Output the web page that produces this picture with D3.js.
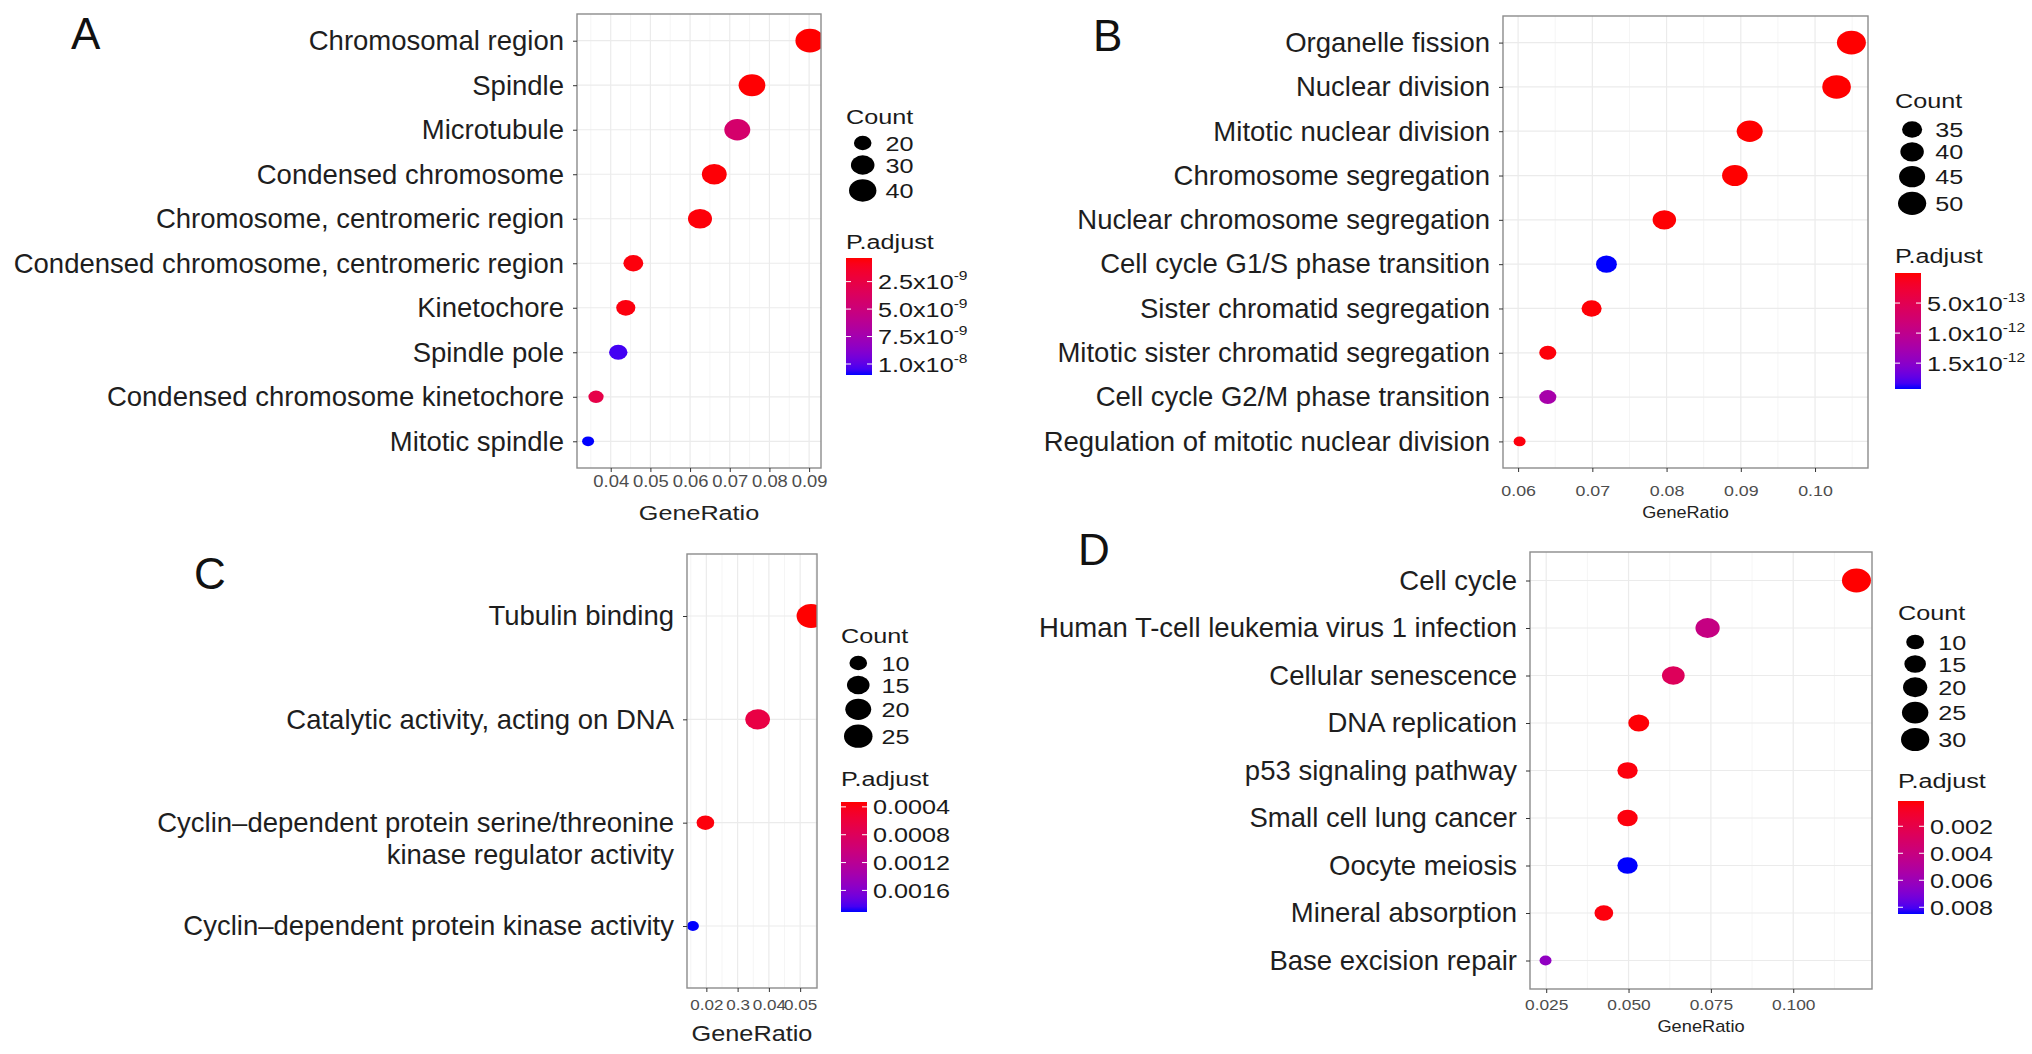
<!DOCTYPE html>
<html><head><meta charset="utf-8">
<script src="https://cdn.jsdelivr.net/npm/d3@7"></script>
<style>
html,body{margin:0;padding:0;background:#fff;}
svg{display:block;font-family:"Liberation Sans",Arial,Helvetica,sans-serif;}
</style></head><body>
<svg id="chart" width="2032" height="1054"></svg>
<script>
// ---------- Panel A ----------
const aTerms = ["Chromosomal region","Spindle","Microtubule","Condensed chromosome","Chromosome, centromeric region","Condensed chromosome, centromeric region","Kinetochore","Spindle pole","Condensed chromosome kinetochore","Mitotic spindle"];
const aGeneRatio = [0.0902,0.0756,0.0719,0.0661,0.0625,0.0457,0.0438,0.0419,0.0363,0.0343];
const aCount = [45,38,36,33,31,23,22,21,18,17];
const aPadj = [3.5e-10,4.0e-10,4.3e-9,4.5e-10,5.0e-10,5.5e-10,6.0e-10,1.05e-8,2.7e-9,1.1e-8];
const aXTicks = [0.04,0.05,0.06,0.07,0.08,0.09];
const aXTickLabels = ["0.04","0.05","0.06","0.07","0.08","0.09"];
const aCountBreaks = [20,30,40];
const aPadjBreaks = [2.5e-9,5.0e-9,7.5e-9,1.0e-8];
const aPadjBase = ["2.5x10","5.0x10","7.5x10","1.0x10"];
const aPadjExp = ["-9","-9","-9","-8"];

// ---------- Panel B ----------
const bTerms = ["Organelle fission","Nuclear division","Mitotic nuclear division","Chromosome segregation","Nuclear chromosome segregation","Cell cycle G1/S phase transition","Sister chromatid segregation","Mitotic sister chromatid segregation","Cell cycle G2/M phase transition","Regulation of mitotic nuclear division"];
const bGeneRatio = [0.1049,0.1029,0.0912,0.0892,0.0797,0.0719,0.0699,0.0640,0.0640,0.0602];
const bCount = [52,51,45,44,40,36,35,32,32,30];
const bPadj = [1e-16,3e-16,8e-16,1.5e-15,1e-14,1.93e-12,2e-14,3e-14,1.25e-12,4e-14];
const bXTicks = [0.06,0.07,0.08,0.09,0.10];
const bXTickLabels = ["0.06","0.07","0.08","0.09","0.10"];
const bCountBreaks = [35,40,45,50];
const bPadjBreaks = [5.0e-13,1.0e-12,1.5e-12];
const bPadjBase = ["5.0x10","1.0x10","1.5x10"];
const bPadjExp = ["-13","-12","-12"];

// ---------- Panel C ----------
const cTerms = ["Tubulin binding","Catalytic activity, acting on DNA","Cyclin–dependent protein serine/threonine\nkinase regulator activity","Cyclin–dependent protein kinase activity"];
const cGeneRatio = [0.0535,0.0364,0.0197,0.0157];
const cCount = [26,18,10,8];
const cPadj = [0.00033,0.00065,0.00036,0.00191];
const cXTicks = [0.02,0.03,0.04,0.05];
const cXTickLabels = ["0.02","0.3","0.04","0.05"];
const cCountBreaks = [10,15,20,25];
const cPadjBreaks = [0.0004,0.0008,0.0012,0.0016];
const cPadjBase = ["0.0004","0.0008","0.0012","0.0016"];
const cPadjExp = ["","","",""];

// ---------- Panel D ----------
const dTerms = ["Cell cycle","Human T-cell leukemia virus 1 infection","Cellular senescence","DNA replication","p53 signaling pathway","Small cell lung cancer","Oocyte meiosis","Mineral absorption","Base excision repair"];
const dGeneRatio = [0.1192,0.0740,0.0636,0.0531,0.0497,0.0497,0.0497,0.0425,0.0248];
const dCount = [32,20,17,14,13,13,13,11,7];
const dPadj = [0.000127,0.0041,0.0026,0.0002,0.0003,0.0003,0.0085,0.0003,0.0064];
const dXTicks = [0.025,0.05,0.075,0.10];
const dXTickLabels = ["0.025","0.050","0.075","0.100"];
const dCountBreaks = [10,15,20,25,30];
const dPadjBreaks = [0.002,0.004,0.006,0.008];
const dPadjBase = ["0.002","0.004","0.006","0.008"];
const dPadjExp = ["","","",""];

const panels = [
 {key:"A", terms:aTerms, ratio:aGeneRatio, count:aCount, padj:aPadj, xTicks:aXTicks, xTickLabels:aXTickLabels,
  countBreaks:aCountBreaks, padjBreaks:aPadjBreaks, padjBase:aPadjBase, padjExp:aPadjExp,
  box:{left:577,right:821,top:14,bottom:468}, tickFs:16, tickSx:1.15, tickY:19, titleFs:21, titleSx:1.2, titleY:520,
  letter:{x:71,y:49}, leg:{x:846, countY:124, key0:143, padjY:249, barTop:258, barH:117}},
 {key:"B", terms:bTerms, ratio:bGeneRatio, count:bCount, padj:bPadj, xTicks:bXTicks, xTickLabels:bXTickLabels,
  countBreaks:bCountBreaks, padjBreaks:bPadjBreaks, padjBase:bPadjBase, padjExp:bPadjExp,
  box:{left:1503,right:1868,top:16,bottom:468}, tickFs:15.5, tickSx:1.15, tickY:28, titleFs:16, titleSx:1.13, titleY:518,
  letter:{x:1093,y:51}, leg:{x:1895, countY:108, key0:129.5, padjY:263, barTop:273, barH:116}},
 {key:"C", terms:cTerms, ratio:cGeneRatio, count:cCount, padj:cPadj, xTicks:cXTicks, xTickLabels:cXTickLabels,
  countBreaks:cCountBreaks, padjBreaks:cPadjBreaks, padjBase:cPadjBase, padjExp:cPadjExp,
  box:{left:687,right:817,top:554,bottom:988}, tickFs:15.5, tickSx:1.1, tickY:22, titleFs:22, titleSx:1.15, titleY:1041,
  letter:{x:194,y:589}, leg:{x:841, countY:643, key0:663, padjY:786, barTop:802, barH:110}},
 {key:"D", terms:dTerms, ratio:dGeneRatio, count:dCount, padj:dPadj, xTicks:dXTicks, xTickLabels:dXTickLabels,
  countBreaks:dCountBreaks, padjBreaks:dPadjBreaks, padjBase:dPadjBase, padjExp:dPadjExp,
  box:{left:1530,right:1872,top:552,bottom:989}, tickFs:15.5, tickSx:1.12, tickY:21, titleFs:16, titleSx:1.14, titleY:1032,
  letter:{x:1078,y:565}, leg:{x:1898, countY:620, key0:642, padjY:788, barTop:801, barH:113}}
];

const svg = d3.select("#chart");
const defs = svg.append("defs");
const W_MIN = 12, W_MAX = 29, ASPECT = 1.22;
const expand = ([a,b]) => { const d = (b-a)*0.05; return [a-d, b+d]; };

panels.forEach(p => {
  const b = p.box;
  const g = svg.append("g");
  const x = d3.scaleLinear().domain(expand(d3.extent(p.ratio))).range([b.left, b.right]);
  const y = d3.scalePoint().domain(p.terms).range([b.top, b.bottom]).padding(0.6);
  const cExt = d3.extent(p.count);
  const t01 = d3.scaleLinear().domain(cExt).range([0,1]);
  const wScale = d3.scaleSqrt().domain([0,1]).range([W_MIN, W_MAX]);
  const width = c => wScale(t01(c));
  const pExt = d3.extent(p.padj);
  const color = d3.scaleLinear().domain(pExt).range(["#ff0000","#0000ff"]).interpolate(d3.interpolateLab);

  defs.append("clipPath").attr("id","clip"+p.key).append("rect")
    .attr("x", b.left).attr("y", b.top).attr("width", b.right-b.left).attr("height", b.bottom-b.top);

  // grid
  const step = p.xTicks[1]-p.xTicks[0];
  const [d0,d1] = x.domain();
  const minor = [];
  for (let v = p.xTicks[0]-step/2; v <= d1 + 1e-12; v += step) if (v >= d0) minor.push(v);
  g.append("g").selectAll("line").data(minor).join("line")
    .attr("x1", d=>x(d)).attr("x2", d=>x(d)).attr("y1", b.top).attr("y2", b.bottom)
    .attr("stroke", "#f3f3f3").attr("stroke-width", 0.8);
  g.append("g").selectAll("line").data(p.xTicks).join("line")
    .attr("x1", d=>x(d)).attr("x2", d=>x(d)).attr("y1", b.top).attr("y2", b.bottom)
    .attr("stroke", "#ebebeb").attr("stroke-width", 1.2);
  g.append("g").selectAll("line").data(p.terms).join("line")
    .attr("x1", b.left).attr("x2", b.right).attr("y1", d=>y(d)).attr("y2", d=>y(d))
    .attr("stroke", "#ebebeb").attr("stroke-width", 1.2);

  // points
  const pts = p.terms.map((t,i)=>({t, r:p.ratio[i], c:p.count[i], pa:p.padj[i]}));
  g.append("g").attr("clip-path", "url(#clip"+p.key+")").selectAll("ellipse").data(pts).join("ellipse")
    .attr("cx", d=>x(d.r)).attr("cy", d=>y(d.t))
    .attr("rx", d=>width(d.c)/2).attr("ry", d=>width(d.c)/2/ASPECT)
    .attr("fill", d=>color(d.pa));

  // border
  g.append("rect").attr("x", b.left).attr("y", b.top).attr("width", b.right-b.left).attr("height", b.bottom-b.top)
    .attr("fill","none").attr("stroke","#8c8c8c").attr("stroke-width",1.4);

  // x axis
  const xa = g.append("g").attr("transform", `translate(0,${b.bottom})`)
    .call(d3.axisBottom(x).tickValues(p.xTicks).tickFormat((d,i)=>p.xTickLabels[i]).tickSize(4).tickSizeOuter(0));
  xa.select(".domain").remove();
  xa.selectAll(".tick line").attr("stroke","#333");
  xa.selectAll(".tick text").attr("y", p.tickY).attr("dy", null)
    .attr("font-size", p.tickFs).attr("fill","#4d4d4d").attr("font-family",null)
    .attr("transform", `scale(${p.tickSx},1)`);

  // y axis
  const ya = g.append("g").attr("transform", `translate(${b.left},0)`)
    .call(d3.axisLeft(y).tickSize(4).tickPadding(9).tickSizeOuter(0));
  ya.select(".domain").remove();
  ya.selectAll(".tick line").attr("stroke","#333");
  ya.selectAll(".tick text").attr("font-size", 27.5).attr("fill","#1e1e1e").attr("font-family",null)
    .each(function(d){
      const lines = d.split("\n");
      if (lines.length > 1) {
        const tx = d3.select(this); const xx = tx.attr("x");
        tx.text(null).attr("dy", null);
        lines.forEach((ln,i)=> tx.append("tspan").attr("x", xx).attr("dy", i===0 ? "0.32em" : "1.17em").text(ln));
      }
    });

  // axis title
  g.append("text").attr("transform", `translate(${(b.left+b.right)/2},${p.titleY}) scale(${p.titleSx},1)`)
    .attr("text-anchor","middle").attr("font-size", p.titleFs).attr("fill","#222").text("GeneRatio");

  // panel letter
  svg.append("text").attr("x", p.letter.x).attr("y", p.letter.y).attr("font-size", 44).attr("fill","#111").text(p.key);

  // ---- legends ----
  const L = p.leg, LSX = 1.2, LFS = 21;
  g.append("text").attr("transform", `translate(${L.x},${L.countY}) scale(${LSX},1)`)
    .attr("font-size", LFS).attr("fill","#1a1a1a").text("Count");
  const maxW = width(d3.max(p.countBreaks));
  let yy = L.key0, prevH = null;
  p.countBreaks.forEach((cb,i) => {
    const w = width(cb), h = w/ASPECT;
    if (prevH !== null) yy += Math.max(22, (prevH + h)/2 + 4.5);
    prevH = h;
    g.append("ellipse").attr("cx", L.x + maxW/2 + 3).attr("cy", yy).attr("rx", w/2).attr("ry", w/2/ASPECT).attr("fill","#000");
    g.append("text").attr("transform", `translate(${L.x + maxW + 12},${yy}) scale(${LSX},1)`)
      .attr("dy","0.36em").attr("font-size", LFS).attr("fill","#1a1a1a").text(cb);
  });

  g.append("text").attr("transform", `translate(${L.x},${L.padjY}) scale(${LSX},1)`)
    .attr("font-size", LFS).attr("fill","#1a1a1a").text("P.adjust");
  const grad = defs.append("linearGradient").attr("id","grad"+p.key).attr("x1",0).attr("x2",0).attr("y1",0).attr("y2",1);
  d3.range(0, 1.0001, 0.05).forEach(s => grad.append("stop").attr("offset", s).attr("stop-color", d3.interpolateLab("#ff0000","#0000ff")(s)));
  const BW = 26;
  g.append("rect").attr("x", L.x).attr("y", L.barTop).attr("width", BW).attr("height", L.barH).attr("fill", `url(#grad${p.key})`);
  const by = d3.scaleLinear().domain(pExt).range([L.barTop, L.barTop + L.barH]);
  p.padjBreaks.forEach((pb,i) => {
    const yv = by(pb);
    g.append("line").attr("x1", L.x).attr("x2", L.x+5).attr("y1", yv).attr("y2", yv).attr("stroke","#fff").attr("stroke-width",1);
    g.append("line").attr("x1", L.x+BW-5).attr("x2", L.x+BW).attr("y1", yv).attr("y2", yv).attr("stroke","#fff").attr("stroke-width",1);
    const tx = g.append("text").attr("transform", `translate(${L.x + BW + 6},${yv}) scale(${LSX},1)`)
      .attr("dy","0.36em").attr("font-size", LFS).attr("fill","#1a1a1a");
    tx.append("tspan").text(p.padjBase[i]);
    if (p.padjExp[i]) tx.append("tspan").attr("font-size", 13).attr("dy", -9).text(p.padjExp[i]);
  });
});
</script>
</body></html>
